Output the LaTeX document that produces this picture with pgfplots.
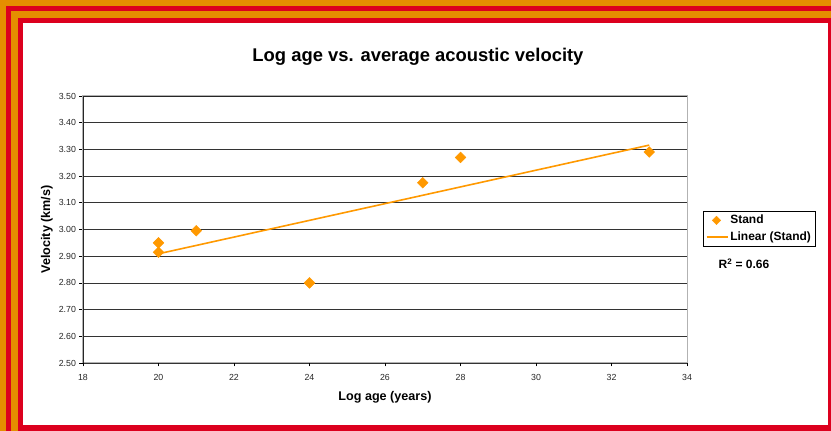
\documentclass[border=0pt]{standalone}
\usepackage{pgfplots}
\pgfplotsset{compat=1.18}
\usepackage{fontspec}
\setmainfont{Liberation Sans}
\definecolor{frameorange}{RGB}{229,142,0}
\definecolor{framered}{RGB}{220,0,30}
\definecolor{ptorange}{RGB}{255,153,0}
\pgfplotsset{
  mylegmark/.style={legend image code/.code={\draw[#1, mark size=3pt] plot coordinates {(10pt,0pt)};}},
  myleglin/.style={legend image code/.code={\draw[#1] (0pt,0pt) -- (21pt,0pt);}},
}
\begin{document}
\begin{tikzpicture}[x=1pt,y=1pt]
\fill[frameorange] (0,0) rectangle (831,431);
\fill[framered] (6,0) rectangle (831,425);
\fill[frameorange] (11,0) rectangle (831,420);
\fill[framered] (18,0) rectangle (831,413);
\fill[white] (23,6) rectangle (828,408);
\node[font=\bfseries\fontsize{18.4}{22}\selectfont] at (418,374) {Log age vs. average acoustic velocity};
\begin{axis}[
  at={(83pt,68pt)}, anchor=south west,
  scale only axis, width=604pt, height=267pt,
  xmin=18, xmax=34, ymin=2.5, ymax=3.5,
  xtick={18,20,22,24,26,28,30,32,34},
  ytick={2.5,2.6,2.7,2.8,2.9,3.0,3.1,3.2,3.3,3.4,3.5},
  yticklabel style={/pgf/number format/.cd, fixed, fixed zerofill, precision=2},
  /pgf/number format/assume math mode=true,
  ticklabel style={font=\fontsize{8.8}{10}\selectfont, text=black!85},
  xticklabel style={yshift=-4pt},
  ymajorgrids, grid style={black!80, line width=0.6pt},
  axis line style={black!30, line width=1pt},
  ytick style={black, line width=0.6pt},
  xtick style={black, line width=0.6pt},
  tick align=outside, major tick length=3.5pt,
  xtick pos=bottom, ytick pos=left,
  xlabel={Log age (years)}, ylabel={Velocity (km/s)},
  label style={font=\bfseries\fontsize{12.6}{15}\selectfont},
  xlabel style={at={(axis description cs:0.5,0)}, anchor=center, yshift=-34pt},
  ylabel style={at={(axis description cs:-0.0600,0.5)}, anchor=center},
  legend style={at={(1.0265,0.569)}, anchor=north west, draw=black,
    font=\bfseries\fontsize{12}{14}\selectfont, inner xsep=2.5pt, inner ysep=2pt, row sep=2.5pt},
  legend cell align=left,
]
\addplot[only marks, mark=square*, mark size=3.8pt, mark options={rotate=45, fill=ptorange, draw=ptorange}, mylegmark]
  coordinates {(20,2.95) (20,2.915) (21,2.995) (24,2.80) (27,3.175) (28,3.27) (33,3.29)};
\addlegendentry{Stand}
\addplot[ptorange, line width=1.6pt, no marks, myleglin]
  coordinates {(20,2.909) (33,3.316)};
\addlegendentry{Linear (Stand)}
\draw[black!85, line width=0.9pt] (rel axis cs:1,1) -- (rel axis cs:0,1) -- (rel axis cs:0,0) -- (rel axis cs:1,0);
\end{axis}
\node[font=\bfseries\fontsize{12}{14}\selectfont] at (744,167) {R\textsuperscript{2} = 0.66};
\pgfresetboundingbox
\useasboundingbox (0,0) rectangle (831,431);
\end{tikzpicture}
\end{document}
